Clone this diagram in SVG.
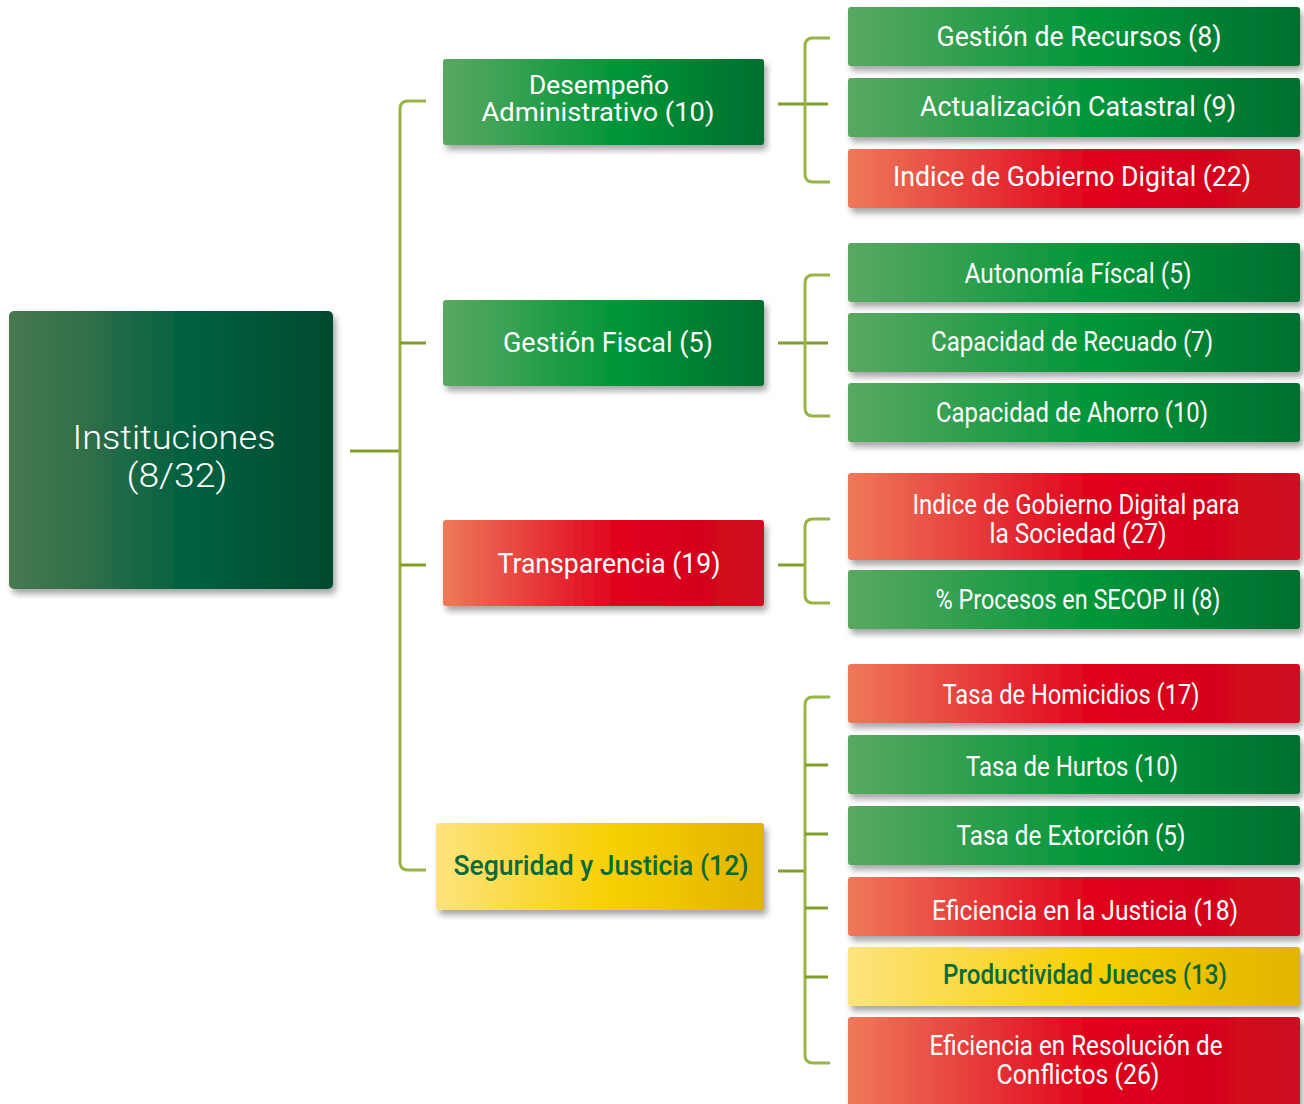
<svg xmlns="http://www.w3.org/2000/svg" width="1304" height="1104" viewBox="0 0 1304 1104">
<defs>
<linearGradient id="gGreen" x1="0" y1="0" x2="1" y2="0">
<stop offset="0" stop-color="#5aa862"/><stop offset="0.55" stop-color="#009638"/><stop offset="1" stop-color="#006e2e"/>
</linearGradient>
<linearGradient id="gRed" x1="0" y1="0" x2="1" y2="0">
<stop offset="0" stop-color="#ee7a5a"/><stop offset="0.55" stop-color="#e0001b"/><stop offset="1" stop-color="#cc0a20"/>
</linearGradient>
<linearGradient id="gYellow" x1="0" y1="0" x2="1" y2="0">
<stop offset="0" stop-color="#fde37e"/><stop offset="0.55" stop-color="#f7cf00"/><stop offset="1" stop-color="#e2b300"/>
</linearGradient>
<linearGradient id="gMain" x1="0" y1="0" x2="1" y2="0">
<stop offset="0" stop-color="#487a50"/><stop offset="0.25" stop-color="#2f6e48"/><stop offset="0.55" stop-color="#006140"/><stop offset="1" stop-color="#004a2e"/>
</linearGradient>
<filter id="sh" x="-5%" y="-10%" width="115%" height="130%">
<feDropShadow dx="3" dy="5" stdDeviation="3" flood-color="#000" flood-opacity="0.35"/>
</filter>
</defs>
<style>
.box{filter:url(#sh)}
.t{font-family:"Roboto","Liberation Sans",sans-serif;font-size:27px;font-weight:400;fill:#fff;text-anchor:middle}
.s{font-size:25px}
.dk{fill:#08693a;font-weight:500}
.main{font-family:"Roboto","Liberation Sans",sans-serif;font-size:34px;font-weight:300;fill:#fff;text-anchor:middle}
.c{fill:none;stroke:#98b443;stroke-width:3;stroke-linecap:butt}
.k{fill:none;stroke:#7f9e2a;stroke-width:3}
</style>

<g id="connectors">
<line class="k" x1="350" y1="451" x2="400" y2="451"/>
<path class="c" d="M426,101 H408 Q400,101 400,109 V862 Q400,870 408,870 H426"/>
<line class="k" x1="400" y1="343" x2="426" y2="343"/>
<line class="k" x1="400" y1="565" x2="426" y2="565"/>

<line class="k" x1="778" y1="104" x2="828" y2="104"/>
<path class="c" d="M830,38 H813 Q805,38 805,46 V174 Q805,182 813,182 H830"/>

<line class="k" x1="778" y1="343" x2="828" y2="343"/>
<path class="c" d="M830,275 H813 Q805,275 805,283 V408 Q805,416 813,416 H830"/>

<line class="k" x1="778" y1="565" x2="805" y2="565"/>
<path class="c" d="M830,519 H813 Q805,519 805,527 V595 Q805,603 813,603 H830"/>

<line class="k" x1="778" y1="871" x2="805" y2="871"/>
<path class="c" d="M830,697 H813 Q805,697 805,705 V1055 Q805,1063 813,1063 H830"/>
<line class="k" x1="805" y1="765" x2="828" y2="765"/>
<line class="k" x1="805" y1="834" x2="828" y2="834"/>
<line class="k" x1="805" y1="908" x2="828" y2="908"/>
<line class="k" x1="805" y1="977" x2="828" y2="977"/>
</g>

<g id="n-instituciones">
<rect class="box" x="9" y="311" width="324" height="278" rx="5" fill="url(#gMain)"/>
<text class="main" x="174" y="449" textLength="203" lengthAdjust="spacingAndGlyphs">Instituciones</text>
<text class="main" x="177" y="487" textLength="101" lengthAdjust="spacingAndGlyphs">(8/32)</text>
</g>

<g id="n-desempeno">
<rect class="box" x="443" y="59" width="321" height="86" rx="3" fill="url(#gGreen)"/>
<text class="t s" x="599" y="94" textLength="140" lengthAdjust="spacingAndGlyphs">Desempeño</text>
<text class="t s" x="598" y="121" textLength="233" lengthAdjust="spacingAndGlyphs">Administrativo (10)</text>
</g>
<g id="n-gestion-fiscal">
<rect class="box" x="443" y="300" width="321" height="86" rx="3" fill="url(#gGreen)"/>
<text class="t" x="608" y="352" textLength="210" lengthAdjust="spacingAndGlyphs">Gestión Fiscal (5)</text>
</g>
<g id="n-transparencia">
<rect class="box" x="443" y="520" width="321" height="86" rx="3" fill="url(#gRed)"/>
<text class="t" x="609" y="573" textLength="223" lengthAdjust="spacingAndGlyphs">Transparencia (19)</text>
</g>
<g id="n-seguridad">
<rect class="box" x="436" y="823" width="328" height="87" rx="3" fill="url(#gYellow)"/>
<text class="t dk" x="601" y="875" textLength="295" lengthAdjust="spacingAndGlyphs">Seguridad y Justicia (12)</text>
</g>

<g id="n-gestion-recursos">
<rect class="box" x="848" y="7" width="452" height="59" rx="3" fill="url(#gGreen)"/>
<text class="t" x="1079" y="46" textLength="285" lengthAdjust="spacingAndGlyphs">Gestión de Recursos (8)</text>
</g>
<g id="n-actualizacion">
<rect class="box" x="848" y="78" width="452" height="59" rx="3" fill="url(#gGreen)"/>
<text class="t" x="1078" y="116" textLength="316" lengthAdjust="spacingAndGlyphs">Actualización Catastral (9)</text>
</g>
<g id="n-igd">
<rect class="box" x="848" y="149" width="452" height="59" rx="3" fill="url(#gRed)"/>
<text class="t" x="1072" y="186" textLength="358" lengthAdjust="spacingAndGlyphs">Indice de Gobierno Digital (22)</text>
</g>
<g id="n-autonomia">
<rect class="box" x="848" y="243" width="452" height="59" rx="3" fill="url(#gGreen)"/>
<text class="t" x="1078" y="283" textLength="227" lengthAdjust="spacingAndGlyphs">Autonomía Físcal (5)</text>
</g>
<g id="n-recuado">
<rect class="box" x="848" y="313" width="452" height="59" rx="3" fill="url(#gGreen)"/>
<text class="t" x="1072" y="351" textLength="282" lengthAdjust="spacingAndGlyphs">Capacidad de Recuado (7)</text>
</g>
<g id="n-ahorro">
<rect class="box" x="848" y="383" width="452" height="59" rx="3" fill="url(#gGreen)"/>
<text class="t" x="1072" y="422" textLength="272" lengthAdjust="spacingAndGlyphs">Capacidad de Ahorro (10)</text>
</g>
<g id="n-igd-sociedad">
<rect class="box" x="848" y="473" width="452" height="87" rx="3" fill="url(#gRed)"/>
<text class="t" x="1076" y="514" textLength="327" lengthAdjust="spacingAndGlyphs">Indice de Gobierno Digital para</text>
<text class="t" x="1078" y="543" textLength="177" lengthAdjust="spacingAndGlyphs">la Sociedad (27)</text>
</g>
<g id="n-secop">
<rect class="box" x="848" y="570" width="452" height="59" rx="3" fill="url(#gGreen)"/>
<text class="t" x="1078" y="609" textLength="285" lengthAdjust="spacingAndGlyphs">% Procesos en SECOP II (8)</text>
</g>
<g id="n-homicidios">
<rect class="box" x="848" y="664" width="452" height="59" rx="3" fill="url(#gRed)"/>
<text class="t" x="1071" y="704" textLength="257" lengthAdjust="spacingAndGlyphs">Tasa de Homicidios (17)</text>
</g>
<g id="n-hurtos">
<rect class="box" x="848" y="735" width="452" height="59" rx="3" fill="url(#gGreen)"/>
<text class="t" x="1072" y="776" textLength="212" lengthAdjust="spacingAndGlyphs">Tasa de Hurtos (10)</text>
</g>
<g id="n-extorcion">
<rect class="box" x="848" y="806" width="452" height="59" rx="3" fill="url(#gGreen)"/>
<text class="t" x="1071" y="845" textLength="229" lengthAdjust="spacingAndGlyphs">Tasa de Extorción (5)</text>
</g>
<g id="n-eficiencia-justicia">
<rect class="box" x="848" y="877" width="452" height="59" rx="3" fill="url(#gRed)"/>
<text class="t" x="1085" y="920" textLength="306" lengthAdjust="spacingAndGlyphs">Eficiencia en la Justicia (18)</text>
</g>
<g id="n-productividad">
<rect class="box" x="848" y="947" width="452" height="59" rx="3" fill="url(#gYellow)"/>
<text class="t dk" x="1085" y="984" textLength="284" lengthAdjust="spacingAndGlyphs">Productividad Jueces (13)</text>
</g>
<g id="n-eficiencia-resolucion">
<rect class="box" x="848" y="1017" width="452" height="95" rx="3" fill="url(#gRed)"/>
<text class="t" x="1076" y="1055" textLength="293" lengthAdjust="spacingAndGlyphs">Eficiencia en Resolución de</text>
<text class="t" x="1078" y="1084" textLength="163" lengthAdjust="spacingAndGlyphs">Conflictos (26)</text>
</g>
</svg>
